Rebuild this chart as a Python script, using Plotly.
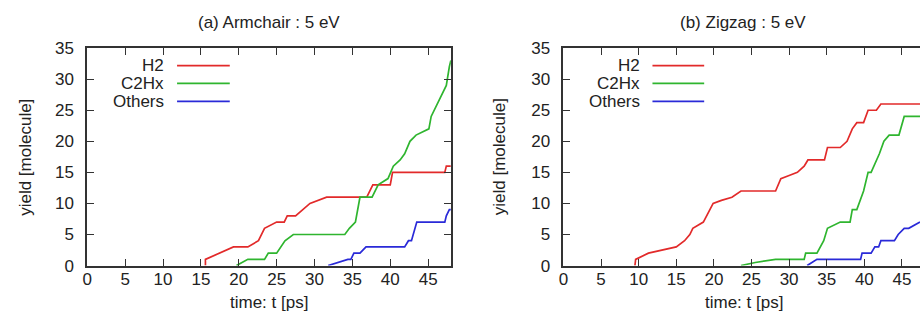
import plotly.graph_objects as go

W, H = 920, 329

# ---------- data ----------
arm_h2_t = [15.6, 15.6, 19.3, 21.2, 22.6, 23.4, 25.0, 26.0, 26.4, 27.5, 29.4, 31.6, 36.9, 37.7, 40.0, 40.3, 47.2, 47.4, 48.0]
arm_h2_y = [0, 1, 3, 3, 4, 6, 7, 7, 8, 8, 10, 11, 11, 13, 13, 15, 15, 16, 16]

arm_c2_t = [19.7, 21.2, 23.4, 23.9, 25.0, 25.5, 26.1, 27.2, 34.0, 34.6, 35.4, 36.0, 37.6, 38.4, 39.7, 40.4, 41.3, 41.9, 42.6, 43.4, 45.1, 45.4, 47.0, 47.4, 47.8, 48.0]
arm_c2_y = [0, 1, 1, 2, 2, 3, 4, 5, 5, 6, 7, 11, 11, 13, 14, 16, 17, 18, 20, 21, 22, 24, 28, 29, 32, 33]

arm_ot_t = [31.8, 34.4, 34.8, 35.2, 36.0, 36.8, 41.9, 42.4, 42.8, 43.5, 47.2, 47.4, 47.8, 48.0]
arm_ot_y = [0, 1, 1, 2, 2, 3, 3, 4, 4, 7, 7, 8, 9, 9]

zz_h2_t = [9.5, 9.6, 11.3, 13.0, 15.0, 16.1, 16.8, 17.2, 18.0, 18.6, 19.9, 21.0, 22.4, 23.6, 28.2, 28.9, 30.0, 31.1, 32.0, 32.5, 34.7, 35.1, 36.8, 37.7, 38.4, 39.0, 39.9, 40.5, 41.6, 42.2, 47.4]
zz_h2_y = [0, 1, 2, 2.5, 3, 4, 5, 6, 6.5, 7, 10, 10.5, 11, 12, 12, 14, 14.5, 15, 16, 17, 17, 19, 19, 20, 22, 23, 23, 25, 25, 26, 26]

zz_c2_t = [23.6, 25.5, 28.2, 32.0, 32.2, 33.7, 34.6, 35.1, 36.8, 38.1, 38.4, 39.0, 39.9, 40.5, 40.9, 41.3, 42.0, 42.6, 43.3, 44.6, 45.3, 47.4]
zz_c2_y = [0, 0.5, 1, 1, 2, 2, 4, 6, 7, 7, 9, 9, 12, 15, 15, 16, 18, 20, 21, 21, 24, 24]

zz_ot_t = [32.4, 33.7, 39.5, 39.7, 40.9, 41.4, 41.9, 42.2, 44.0, 44.5, 45.3, 45.9, 47.4]
zz_ot_y = [0, 1, 1, 2, 2, 3, 3, 4, 4, 5, 6, 6, 7]

series_names = ["H2", "C2Hx", "Others"]
panel_titles = ["(a) Armchair : 5 eV", "(b) Zigzag : 5 eV"]
x_title = "time: t [ps]"
y_title = "yield [molecule]"
x_ticks = [0, 5, 10, 15, 20, 25, 30, 35, 40, 45]
y_ticks = [0, 5, 10, 15, 20, 25, 30, 35]

# ---------- styles ----------
colors = ["#e22a2a", "#2fb52f", "#2a2ad8"]
FONT = "Liberation Sans, Arial, sans-serif"
FS = 17
TXT = "#222222"
AX = "#333333"

fig = go.Figure()
panels = [
    (("x", "y"), [(arm_h2_t, arm_h2_y), (arm_c2_t, arm_c2_y), (arm_ot_t, arm_ot_y)]),
    (("x2", "y2"), [(zz_h2_t, zz_h2_y), (zz_c2_t, zz_c2_y), (zz_ot_t, zz_ot_y)]),
]
for (xa, ya), data in panels:
    for (t, v), c, n in zip(data, colors, series_names):
        fig.add_trace(go.Scatter(x=t, y=v, mode="lines", name=n, xaxis=xa, yaxis=ya,
                                 line=dict(color=c, width=1.7), showlegend=False,
                                 hoverinfo="skip"))

# px geometry
ax_l, ax_r = 82.7, 448.3
bx_l = 561.5
y_top, y_bot = 41.5, 272.3
yd = [(H - y_bot) / H, (H - y_top) / H]

common_x = dict(tickmode="array", tickvals=x_ticks, ticks="inside", ticklen=7, tickwidth=1.3,
                tickcolor=AX, showline=True, linecolor=AX, linewidth=1.8, showgrid=False,
                zeroline=False, tickfont=dict(family=FONT, size=FS, color=TXT),
                ticklabelstandoff=-3)
common_y = dict(tickmode="array", tickvals=y_ticks, ticks="inside", ticklen=7, tickwidth=1.3,
                tickcolor=AX, showline=True, linecolor=AX, linewidth=1.8, showgrid=False,
                zeroline=False, range=[0, 35], tickfont=dict(family=FONT, size=FS, color=TXT),
                ticklabelstandoff=8)

fig.update_layout(
    width=W, height=H, margin=dict(l=0, r=0, t=0, b=0),
    paper_bgcolor="white", plot_bgcolor="white", showlegend=False,
    xaxis=dict(common_x, domain=[ax_l / W, ax_r / W], range=[0, 48], anchor="y", mirror="ticks"),
    yaxis=dict(common_y, domain=yd, anchor="x", mirror="ticks"),
    xaxis2=dict(common_x, domain=[bx_l / W, 1.0], range=[0, 47.4], anchor="y2", mirror="ticks"),
    yaxis2=dict(common_y, domain=yd, anchor="x2", mirror=False),
    yaxis3=dict(tickmode="array", tickvals=y_ticks, ticks="inside", ticklen=7, tickwidth=1.3,
                tickcolor=AX, showline=False, showgrid=False, zeroline=False, range=[0, 35],
                showticklabels=False, overlaying="y2", side="right", anchor="free", position=1.0),
)

ann = []
def px(x):
    return x / W
def py(y):
    return (H - y) / H

# panel titles
for cx, title in zip([265.5, 742.5], panel_titles):
    ann.append(dict(x=px(cx), y=py(14.5), xref="paper", yref="paper", text=title, showarrow=False,
                    font=dict(family=FONT, size=FS, color=TXT), xanchor="center", yanchor="middle",
                    borderpad=0))
# axis titles
for cx in [265.5, 743]:
    ann.append(dict(x=px(cx), y=py(312), xref="paper", yref="paper", text=x_title, showarrow=False,
                    font=dict(family=FONT, size=FS, color=TXT), xanchor="center", yanchor="middle",
                    borderpad=0))
for cx in [21, 498]:
    ann.append(dict(x=px(cx), y=py(157), xref="paper", yref="paper", text=y_title, showarrow=False,
                    textangle=-90, font=dict(family=FONT, size=FS, color=TXT),
                    xanchor="center", yanchor="middle", borderpad=0))

# gnuplot-style legends (text right-aligned, sample line to the right)
shapes = []
for txt_r, l0, l1 in [(161, 173, 226), (639, 651, 703)]:
    for i, (n, c) in enumerate(zip(series_names, colors)):
        yy = 60 + i * 19
        ann.append(dict(x=px(txt_r), y=py(yy), xref="paper", yref="paper", text=n, showarrow=False,
                        font=dict(family=FONT, size=FS, color=TXT), xanchor="right", yanchor="middle",
                        borderpad=0))
        shapes.append(dict(type="line", xref="paper", yref="paper", x0=px(l0), x1=px(l1),
                           y0=py(yy), y1=py(yy), line=dict(color=c, width=1.7)))

fig.update_layout(annotations=ann, shapes=shapes)
fig.write_html("out.html", config={"displayModeBar": False},
               post_script="document.body.style.margin='0';document.body.style.overflow='hidden';")
